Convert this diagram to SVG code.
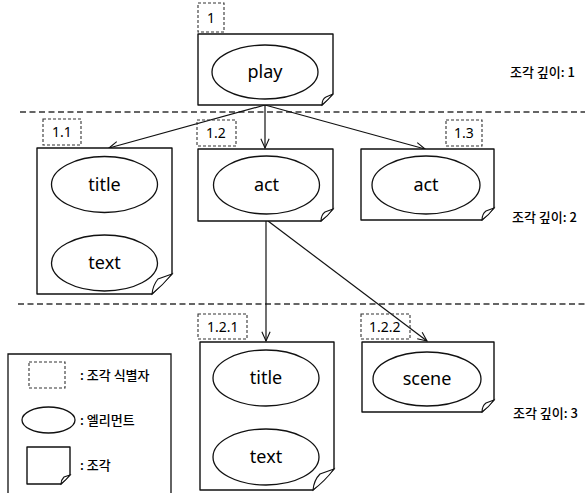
<svg xmlns="http://www.w3.org/2000/svg" width="585" height="493" viewBox="0 0 585 493">
<defs>
<style>
.frag{fill:#fff;stroke:#111;stroke-width:1.4;stroke-linejoin:round}
.curl{fill:#fff;stroke:#111;stroke-width:1.1}
.el{fill:#fff;stroke:#111;stroke-width:1.3}
.idb{fill:none;stroke:#333;stroke-width:1.1;stroke-dasharray:3 2}
.sep{fill:none;stroke:#333;stroke-width:1.3;stroke-dasharray:6 3.5}
.conn{fill:none;stroke:#111;stroke-width:1.2}
.et{font-family:"Noto Sans","Liberation Sans",sans-serif;font-size:18px;fill:#000;text-anchor:middle}
.it{font-family:"Noto Sans","Liberation Sans",sans-serif;font-size:14px;fill:#000}
.kt{font-family:"Noto Sans CJK KR","Noto Sans",sans-serif;font-size:13px;font-weight:500;fill:#000}
</style>
<marker id="arr" viewBox="0 0 12 12" refX="11" refY="6" markerWidth="11" markerHeight="11" markerUnits="userSpaceOnUse" orient="auto">
<path d="M1,1.5 L11,6 L1,10.5" fill="none" stroke="#111" stroke-width="1.2"/>
</marker>
</defs>
<rect width="585" height="493" fill="#fff"/>

<g id="separators">
<line class="sep" x1="20" y1="112" x2="585" y2="112"/>
<line class="sep" x1="18" y1="304" x2="585" y2="304"/>
</g>

<g id="connectors">
<line class="conn" x1="265" y1="105" x2="109" y2="148" marker-end="url(#arr)"/>
<line class="conn" x1="265" y1="105" x2="265" y2="148" marker-end="url(#arr)"/>
<line class="conn" x1="265" y1="105" x2="425" y2="149" marker-end="url(#arr)"/>
<line class="conn" x1="266" y1="221" x2="266" y2="341" marker-end="url(#arr)"/>
<line class="conn" x1="268" y1="221" x2="427" y2="341" marker-end="url(#arr)"/>
</g>

<g id="node-1">
<rect class="idb" x="198" y="3" width="26" height="29"/>
<text class="it" x="207" y="23">1</text>
<path class="frag" d="M198,34 H333 V94 L322,105 H198 Z"/>
<path class="curl" d="M333,94 L326,97 Q322,99 322,105 Q328,100 333,94 Z"/>
<ellipse class="el" cx="265" cy="72" rx="53" ry="27"/>
<text class="et" x="265" y="78">play</text>
</g>

<g id="node-1-1">
<rect class="idb" x="43" y="119" width="38" height="26"/>
<text class="it" x="52" y="137">1.1</text>
<path class="frag" d="M37,148 H172 V274 L152,294 H37 Z"/>
<path class="curl" d="M172,274 L158,279 Q153,285 152,294 Q163,285 172,274 Z"/>
<ellipse class="el" cx="104.5" cy="184.5" rx="53" ry="28"/>
<text class="et" x="104.5" y="191">title</text>
<ellipse class="el" cx="104.5" cy="263" rx="53" ry="28"/>
<text class="et" x="104.5" y="269">text</text>
</g>

<g id="node-1-2">
<rect class="idb" x="197" y="120" width="39" height="26"/>
<text class="it" x="206" y="138">1.2</text>
<path class="frag" d="M198,149 H333 V209 L321,221 H198 Z"/>
<path class="curl" d="M333,209 L325,212 Q321,215 321,221 Q328,216 333,209 Z"/>
<ellipse class="el" cx="266.5" cy="185" rx="53" ry="29"/>
<text class="et" x="266.5" y="191">act</text>
</g>

<g id="node-1-3">
<rect class="idb" x="446" y="120" width="36" height="26"/>
<text class="it" x="454" y="138">1.3</text>
<path class="frag" d="M361,149 H494 V208 L482,220 H361 Z"/>
<path class="curl" d="M494,208 L486,211 Q482,214 482,220 Q489,215 494,208 Z"/>
<ellipse class="el" cx="426" cy="185" rx="54" ry="29"/>
<text class="et" x="426" y="191">act</text>
</g>

<g id="node-1-2-1">
<rect class="idb" x="198" y="314" width="49" height="25"/>
<text class="it" x="207" y="332">1.2.1</text>
<path class="frag" d="M200,342 H334 V469 L313,490 H200 Z"/>
<path class="curl" d="M334,469 L320,474 Q314,480 313,490 Q325,481 334,469 Z"/>
<ellipse class="el" cx="266" cy="378" rx="53" ry="28"/>
<text class="et" x="266" y="384">title</text>
<ellipse class="el" cx="266" cy="457" rx="53" ry="28"/>
<text class="et" x="266" y="463">text</text>
</g>

<g id="node-1-2-2">
<rect class="idb" x="361" y="314" width="49" height="25"/>
<text class="it" x="369" y="332">1.2.2</text>
<path class="frag" d="M362,342 H494 V400 L482,412 H362 Z"/>
<path class="curl" d="M494,400 L486,403 Q482,406 482,412 Q489,407 494,400 Z"/>
<ellipse class="el" cx="427" cy="379" rx="54" ry="27"/>
<text class="et" x="427" y="385">scene</text>
</g>

<g id="depth-labels">
<text class="kt" x="510" y="77">조각 깊이: 1</text>
<text class="kt" x="512" y="222">조각 깊이: 2</text>
<text class="kt" x="513" y="418">조각 깊이: 3</text>
</g>

<g id="legend">
<path fill="none" stroke="#111" stroke-width="1.3" d="M8,495 V354 H171 V495"/>
<rect class="idb" x="29" y="362" width="36" height="26"/>
<text class="kt" x="80" y="380">: 조각 식별자</text>
<ellipse class="el" cx="48.5" cy="420" rx="26.5" ry="13"/>
<text class="kt" x="80" y="425">: 엘리먼트</text>
<path class="frag" d="M27,447 H70 V475 L61,484 H27 Z"/>
<path class="curl" d="M70,475 L64,477 Q61,480 61,484 Q66,480 70,475 Z"/>
<text class="kt" x="80" y="470">: 조각</text>
</g>
</svg>
